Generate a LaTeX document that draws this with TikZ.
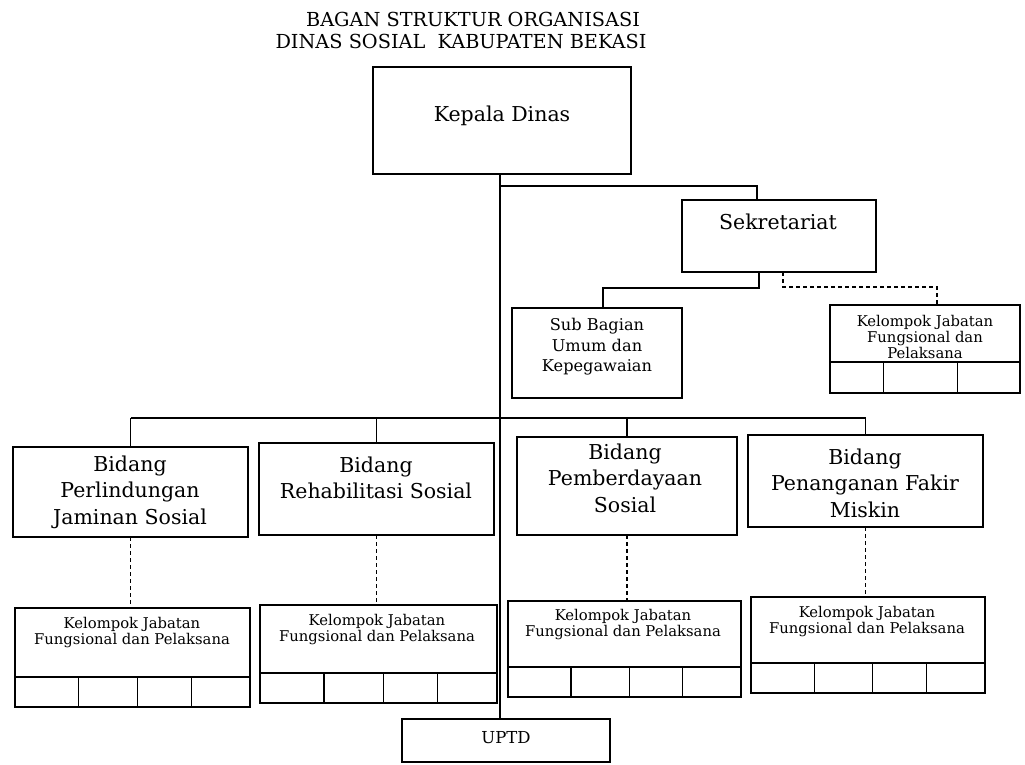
\documentclass[tikz,border=0pt]{standalone}
\usepackage{fontspec}
\setmainfont{DejaVu Serif}
\usetikzlibrary{calc}
\begin{document}
\begin{tikzpicture}[x=1pt,y=-1pt,
  box/.style={draw, line width=1.3pt, inner sep=0pt, outer sep=0pt, anchor=north west},
  titlefont/.style={font=\fontsize{19.3}{22}\selectfont, inner sep=0pt},
  big/.style={font=\fontsize{20.5}{26.5}\selectfont, align=center, inner sep=0pt},
  mid/.style={font=\fontsize{16.2}{20.5}\selectfont, align=center, inner sep=0pt},
  small/.style={font=\fontsize{14.8}{16}\selectfont, align=center, inner sep=0pt},
  conn/.style={line width=1.3pt},
  dconn/.style={line width=1.7pt, dash pattern=on 4pt off 3pt},
  ]
\useasboundingbox (0,0) rectangle (1025,764);

% title
\node[titlefont] (title1) at (473,19) {BAGAN STRUKTUR ORGANISASI};
\node[titlefont] (title2) at (461,41) {DINAS SOSIAL\ \ KABUPATEN BEKASI};

% boxes
\node[box, minimum width=258pt, minimum height=107pt] (kd) at (373,67) {};
\node[box, minimum width=194pt, minimum height=72pt] (sek) at (682,200) {};
\node[box, minimum width=170pt, minimum height=90pt] (sub) at (512,308) {};
\node[box, minimum width=190pt, minimum height=88pt] (ks) at (830,305) {};
\node[box, minimum width=235pt, minimum height=90pt] (b1) at (13,447) {};
\node[box, minimum width=235pt, minimum height=92pt] (b2) at (259,443) {};
\node[box, minimum width=220pt, minimum height=98pt] (b3) at (517,437) {};
\node[box, minimum width=235pt, minimum height=92pt] (b4) at (748,435) {};
\node[box, minimum width=235pt, minimum height=99pt] (k1) at (15,608) {};
\node[box, minimum width=237pt, minimum height=98pt] (k2) at (260,605) {};
\node[box, minimum width=233pt, minimum height=96pt] (k3) at (508,601) {};
\node[box, minimum width=234pt, minimum height=96pt] (k4) at (751,597) {};
\node[box, minimum width=208pt, minimum height=43pt] (uptd) at (402,719) {};

% table rows inside Kelompok boxes
\foreach \k in {k1,k2,k3,k4}{
  \draw[conn] ($(\k.south west)+(0,-30)$) -- ($(\k.south east)+(0,-30)$);
  \foreach \f in {0.27,0.52,0.75}
    \draw[conn] ($(\k.south west)!\f!(\k.south east)$) -- ++(0,-30);
}
\draw[conn] ($(ks.south west)+(0,-31)$) -- ($(ks.south east)+(0,-31)$);
\foreach \f in {0.28,0.67}
  \draw[conn] ($(ks.south west)!\f!(ks.south east)$) -- ++(0,-31);

% texts
\node[big] (kdt) at (502,116) {Kepala Dinas};
\node[big] (sekt) at (778,222) {Sekretariat};
\node[mid] (subt) at (597,347) {Sub Bagian\\Umum dan\\Kepegawaian};
\node[small] (kst) at (925,337) {Kelompok Jabatan\\Fungsional dan\\Pelaksana};
\node[big] (b1t) at (130,492) {Bidang\\Perlindungan\\Jaminan Sosial};
\node[big] (b2t) at (376,478) {Bidang\\Rehabilitasi Sosial};
\node[big] (b3t) at (625,478) {Bidang\\Pemberdayaan\\Sosial};
\node[big] (b4t) at (865,483) {Bidang\\Penanganan Fakir\\Miskin};
\node[small] (k1t) at (132,633) {Kelompok Jabatan\\Fungsional dan Pelaksana};
\node[small] (k2t) at (377,630) {Kelompok Jabatan\\Fungsional dan Pelaksana};
\node[small] (k3t) at (623,625) {Kelompok Jabatan\\Fungsional dan Pelaksana};
\node[small] (k4t) at (867,622) {Kelompok Jabatan\\Fungsional dan Pelaksana};
\node[small, font=\fontsize{16.5}{18}\selectfont] (uptdt) at (506,738) {UPTD};

% connectors
\coordinate (spine) at (500,0);
\draw[conn] (kd.south -| spine) -- (uptd.north -| spine);

\coordinate (sekj) at (500,186);
\draw[conn] (sekj) -| ([xshift=-22pt]sek.north);

\coordinate (sekjs) at (759,288);
\draw[conn] (sek.south -| sekjs) -- (sekjs) -| ([xshift=6pt]sub.north);

\coordinate (sekjd) at (783,287);
\draw[dconn] (sek.south -| sekjd) -- (sekjd) -| ([xshift=12pt]ks.north);

\coordinate (bar) at (0,418);
\draw[conn] (b1.north |- bar) -- (b4.north |- bar);
\foreach \b in {b1,b2,b3,b4}
  \draw[conn] (\b.north |- bar) -- (\b.north);

\draw[dconn] (b1.south) -- (b1.south |- k1.north);
\draw[dconn] (b2.south) -- (b2.south |- k2.north);
\draw[dconn] (b3.south) -- (b3.south |- k3.north);
\draw[dconn] (b4.south) -- (b4.south |- k4.north);
\end{tikzpicture}
\end{document}
